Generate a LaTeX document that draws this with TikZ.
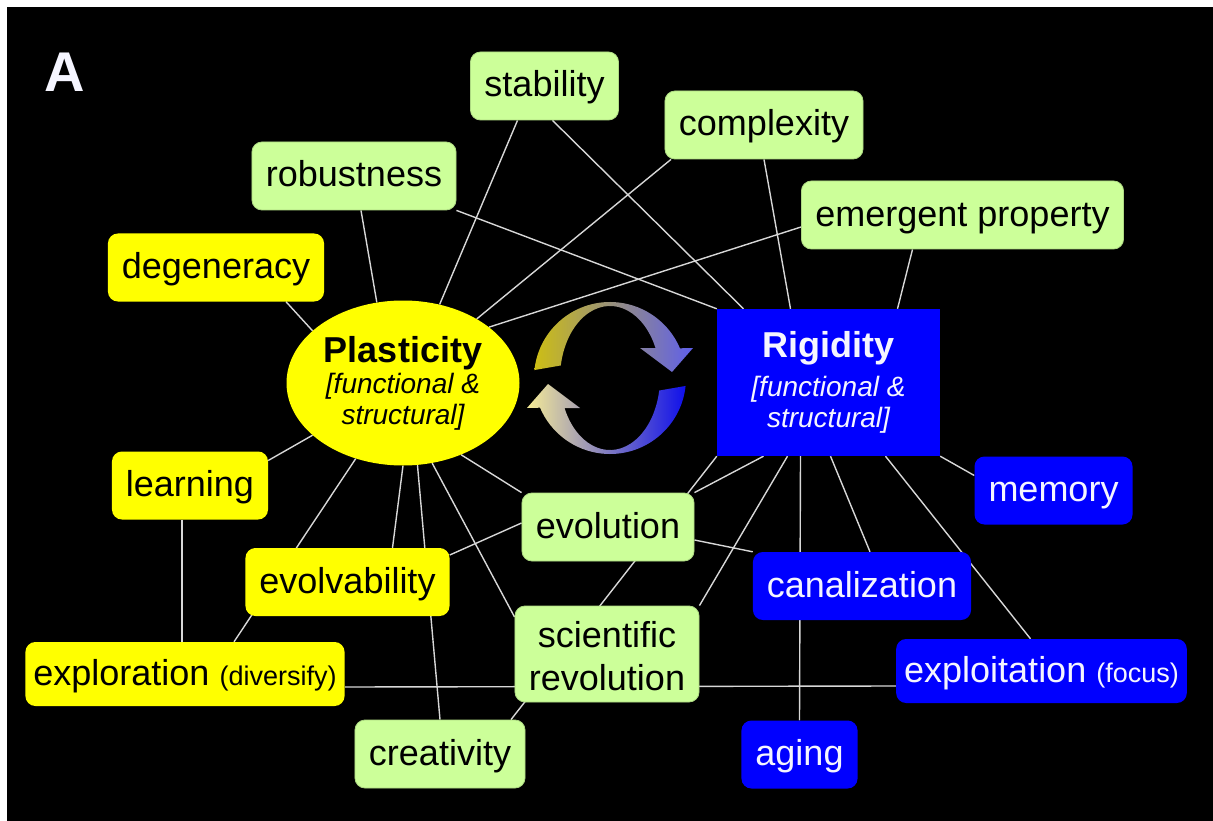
\documentclass[tikz,border=0pt]{standalone}
\usepackage{fontspec}
\setmainfont{Liberation Sans}
\usepackage{tikz}
\usetikzlibrary{calc}
\usetikzlibrary{shapes,positioning}
\definecolor{lgreen}{RGB}{204,255,153}
\definecolor{yel}{RGB}{255,255,0}
\definecolor{blu}{RGB}{0,0,255}
\definecolor{txtw}{RGB}{245,245,255}
\definecolor{edge}{RGB}{215,215,215}
\definecolor{arrolive}{RGB}{205,190,20}
\definecolor{arrlav}{RGB}{95,95,235}
\definecolor{arrblue}{RGB}{15,15,235}
\definecolor{arrpale}{RGB}{245,235,150}
\pgfdeclarelayer{back}
\pgfdeclarelayer{edges}
\pgfsetlayers{back,edges,main}
\newcommand{\fbig}{\fontsize{36}{43}\selectfont}
\newcommand{\fsmall}{\fontsize{27}{30}\selectfont}
\newcommand{\fital}{\fontsize{28}{31}\selectfont\itshape}

\begin{document}
\begin{tikzpicture}[x=1pt,y=1pt,
    cbox/.style={rectangle,rounded corners=10pt,minimum height=68pt,inner xsep=14pt,inner ysep=0pt,
      text height=29pt,text depth=7pt,font=\fbig},
    gbox/.style={cbox,fill=lgreen,draw=lgreen!85!black,line width=0.8pt},
    ybox/.style={cbox,fill=yel},
    bbox/.style={cbox,fill=blu,text=txtw},
    link/.style={draw=edge,line width=1.4pt}]
    \begin{pgfonlayer}{back}
      \fill[white] (0,0) rectangle (1213,-821);
      \fill[black] (7,-7) rectangle (1213,-821);
    \end{pgfonlayer}
    \useasboundingbox (0,0) rectangle (1213,-821);
    \node[text=txtw,font=\fontsize{56}{60}\selectfont\bfseries] (lbl) at (65,-72) {A};
    \node[gbox] (stab) at (544.5,-86) {stability};
    \node[gbox] (cplx) at (764,-125) {complexity};
    \node[gbox] (robu) at (354,-176) {robustness};
    \node[gbox] (emer) at (962.5,-215) {emergent property};
    \node[ybox] (degen) at (216,-267.5) {degeneracy};
    \node[ybox] (learn) at (190,-485.5) {learning};
    \node[ybox] (evolv) at (347.5,-582) {evolvability};
    \node[ybox,minimum height=64pt,inner xsep=8pt] (explor) at (185,-674) {exploration {\fsmall(diversify)}};
    \node[gbox] (creat) at (440,-754) {creativity};
    \node[gbox] (evol) at (608,-527) {evolution};
    \node[gbox,minimum height=96pt,align=center,text height=79pt,text depth=7pt] (scirev) at (607,-654) {scientific\\revolution};
    \node[bbox] (memory) at (1053.5,-490.5) {memory};
    \node[bbox] (canal) at (862,-586) {canalization};
    \node[bbox,minimum height=64pt,inner xsep=8pt] (exploit) at (1041.5,-671) {exploitation {\fsmall(focus)}};
    \node[bbox] (aging) at (799.5,-754.5) {aging};
    \node[ellipse,fill=yel,minimum width=233pt,minimum height=165pt,inner sep=0pt,align=center,font=\fital] (plast) at (403,-383)
      {{\fbig\upshape\bfseries Plasticity}\\[0pt]{[}functional \&\\structural]};
    \node[rectangle,fill=blu,text=txtw,minimum width=223pt,minimum height=147pt,align=center,font=\fital] (rigid) at (828.5,-382.5)
      {{\fbig\upshape\bfseries Rigidity}\\[8pt]{[}functional \&\\structural]};

    \coordinate (cyc) at (610,-378);
    \shade[left color=arrolive,right color=arrlav]
      ($(cyc)+(174:76)$) arc[start angle=174,end angle=23,radius=76]
      -- (693,-348) -- (672,-372) -- (640,-348) -- (655.5,-348)
      arc[start angle=24.6,end angle=170,x radius=50,y radius=72] -- cycle;
    \begin{scope}[rotate around={180:(cyc)}]
      \shade[left color=arrpale,right color=arrblue]
        ($(cyc)+(174:76)$) arc[start angle=174,end angle=23,radius=76]
        -- (693,-348) -- (672,-372) -- (640,-348) -- (655.5,-348)
        arc[start angle=24.6,end angle=170,x radius=50,y radius=72] -- cycle;
    \end{scope}

    \begin{pgfonlayer}{edges}
      \draw[link] ([xshift=7pt]robu.south) -- (plast.108);
      \draw[link] ([xshift=-27pt]stab.south) -- (plast.65);
      \draw[link] ([xshift=70pt]degen.south) -- (plast.150);
      \draw[link] ([xshift=-93pt]cplx.south) -- (plast.41);
      \draw[link] ([yshift=-12pt]emer.west) -- (plast.33);
      \draw[link] (robu.south east) -- (rigid.north west);
      \draw[link] ([xshift=8pt]stab.south) -- ([xshift=-85pt]rigid.north);
      \draw[link] (cplx.south) -- ([xshift=-38pt]rigid.north);
      \draw[link] ([xshift=-50pt]emer.south) -- ([xshift=69pt]rigid.north);
      \draw[link] ([yshift=25pt]learn.east) -- (plast.210);
      \draw[link] (plast.238) -- ([xshift=49pt]explor.north);
      \draw[link] (plast.270) -- ([xshift=45pt]evolv.north);
      \draw[link] (plast.280) -- (creat.north);
      \draw[link] (plast.290) -- ([yshift=37pt]scirev.west);
      \draw[link] (plast.309) -- (evol.north west);
      \draw[link] ([yshift=27pt]evolv.east) -- ([yshift=4pt]evol.west);
      \draw[link] ([xshift=-8pt]learn.south) -- ([xshift=-3pt]explor.north);
      \draw[link] ([yshift=-13pt]explor.east) -- ([yshift=-15pt]exploit.west);
      \draw[link] (rigid.south west) -- ([xshift=71pt]creat.north);
      \draw[link] ([xshift=-65pt]rigid.south) -- (evol.north east);
      \draw[link] ([xshift=-41pt]rigid.south) -- (scirev.north east);
      \draw[link] ([xshift=-28pt]rigid.south) -- (aging.north);
      \draw[link] ([xshift=2pt]rigid.south) -- ([xshift=8pt]canal.north);
      \draw[link] ([xshift=57pt]rigid.south) -- ([xshift=-11pt]exploit.north);
      \draw[link] (rigid.south east) -- ([yshift=15pt]memory.west);
      \draw[link] ([yshift=-13pt]evol.east) -- (canal.north west);
    \end{pgfonlayer}
\end{tikzpicture}
\end{document}
